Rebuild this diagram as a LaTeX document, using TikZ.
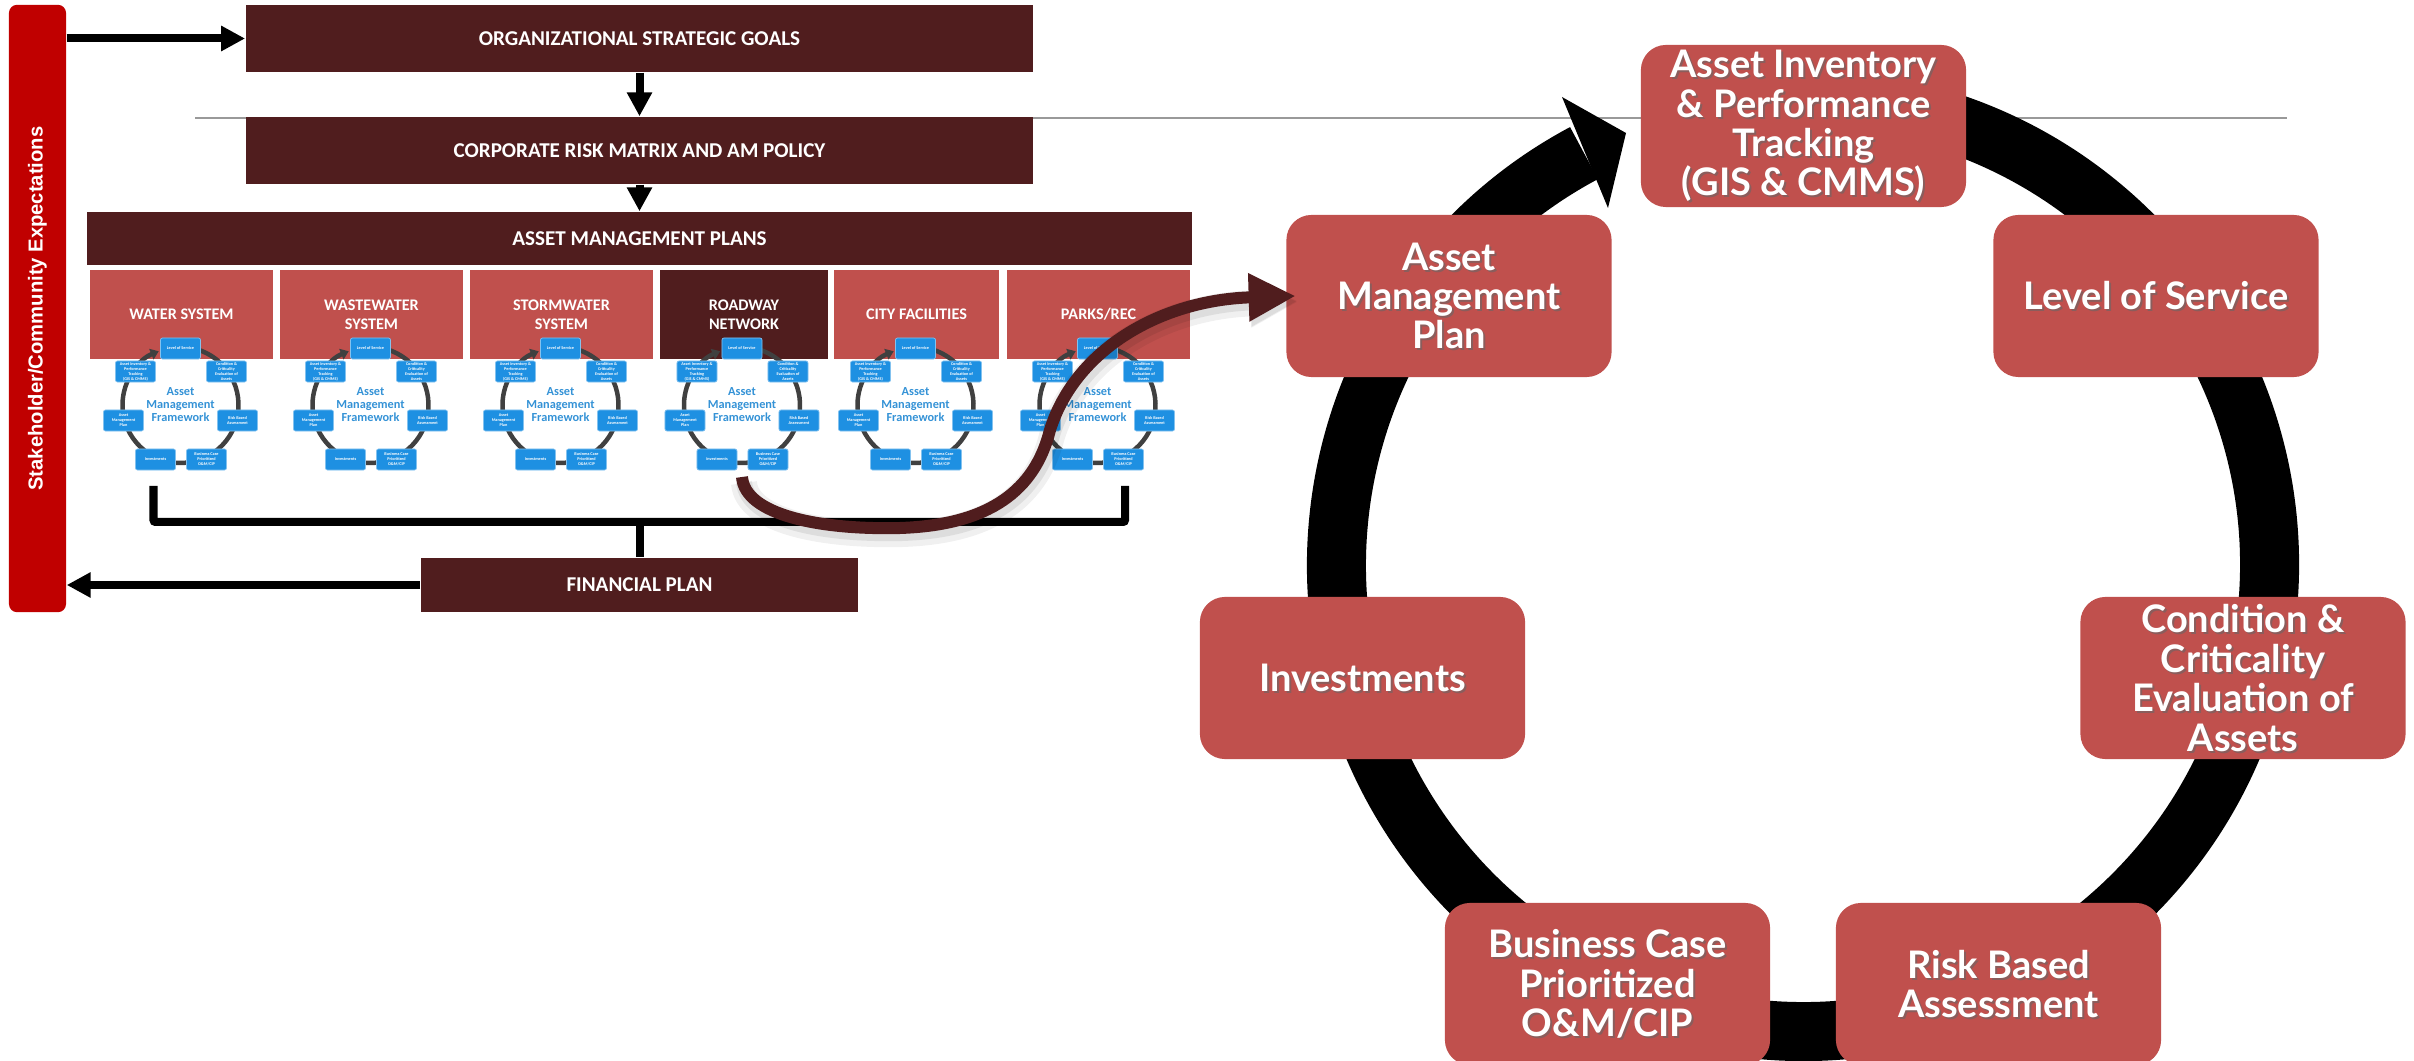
\documentclass[tikz,border=0pt]{standalone}
\usepackage{fontspec}
\setmainfont{Carlito}
\newfontfamily\cycfont{Lato}
\newfontfamily\barfont{Liberation Sans}
\usetikzlibrary{arrows.meta}

\definecolor{maroon}{RGB}{80,29,30}
\definecolor{boxred}{RGB}{192,80,77}
\definecolor{barred}{RGB}{192,0,0}
\definecolor{amfblue}{RGB}{30,144,226}
\definecolor{amftext}{RGB}{52,146,214}

% white label with a soft drop shadow, centred on a box
\newcommand{\shadowtext}[2]{%
  \node[cyctext,text=black!60,opacity=.6] (#1-shd) at ([shift={(2,2)}]#1) {#2};
  \node[cyctext] (#1-txt) at (#1) {#2};}

\tikzset{
  darkbox/.style={fill=maroon,text=white,inner sep=0pt,
    font=\fontsize{6}{7}\selectfont\bfseries},
  subbox/.style={fill=boxred,text=white,align=center,inner sep=0pt,
    minimum height=0.89cm,font=\fontsize{4.6}{5.4}\selectfont\bfseries},
  stakebar/.style={fill=barred,text=white,rotate=90,rounded corners=0.08cm,
    minimum width=6.07cm,minimum height=0.57cm,
    font=\barfont\bfseries\fontsize{5.75}{6}\selectfont},
  cycbox/.style={fill=boxred,rounded corners=0.25cm,
    minimum width=3.25cm,minimum height=1.62cm},
  cyctext/.style={text=white,align=center,
    font=\cycfont\bfseries\fontsize{10.8}{11.2}\selectfont},
  blkarrow/.style={line width=0.08cm,-{Triangle[length=0.24cm,width=0.24cm]}},
  bracket/.style={line width=0.08cm,rounded corners=0.02cm},
  mcurve/.style={draw=maroon,line width=0.12cm,
    -{Triangle[length=0.47cm,width=0.45cm]},
    preaction={draw=black,opacity=.06,line width=0.26cm,
      transform canvas={shift={(0.02cm,-0.06cm)}}},
    preaction={draw=black,opacity=.08,line width=0.16cm,
      transform canvas={shift={(0.02cm,-0.05cm)}}}},
  % small framework wheel inside each system box
  amfring/.style={draw=black!75,line width=0.045cm,
    -{Triangle[length=0.08cm,width=0.11cm]}},
  amfbox/.style={fill=amfblue,draw=amfblue!55!white,line width=0.2pt,
    rounded corners=0.02cm,minimum width=0.4cm,minimum height=0.21cm,
    inner sep=0pt,text=white,align=center,
    font=\fontsize{1.2}{1.4}\selectfont\bfseries},
  amftitle/.style={text=amftext,align=center,inner sep=0pt,
    font=\fontsize{3.5}{3.7}\selectfont\bfseries},
  amf/.pic={
    \draw[amfring] (-80:58) arc[start angle=-80,end angle=248,radius=58];
    \node[amftitle] (-title) at (0,0) {Asset\\Management\\Framework};
    \node[amfbox] (-top) at (0,-56.5) {Level of Service};
    \node[amfbox] (-ul) at (-45,-33.5) {Asset Inventory \&\\Performance\\Tracking\\(GIS \& CMMS)};
    \node[amfbox] (-ur) at (46,-33.5) {Condition \&\\Criticality\\Evaluation of\\Assets};
    \node[amfbox] (-l) at (-57,15.5) {Asset\\Management\\Plan};
    \node[amfbox] (-r) at (57,15.5) {Risk Based\\Assessment};
    \node[amfbox] (-bl) at (-25,54.5) {Investments};
    \node[amfbox] (-br) at (26,54.5) {Business Case\\Prioritized\\O\&M/CIP};
  }
}

\begin{document}
\begin{tikzpicture}[x=0.01cm,y=-0.01cm]
\clip (0,0) rectangle (2414,1061);

% thin rule behind everything
\draw[black!40,line width=0.02cm] (195,118) -- (2287,118);

% the big cycle
\coordinate (cyc) at (1803,565);
\draw[line width=0.59cm] (cyc) ++(-80:466.5) arc[start angle=-80,end angle=242,radius=466.5];
\fill (1562,97) -- (1626,133) -- (1608,208) -- cycle;

\node[cycbox] (inv) at (1803.5,126) {};
\node[cycbox] (amp) at (1449,296) {};
\node[cycbox] (los) at (2156,296) {};
\node[cycbox] (invest) at (1362.5,678) {};
\node[cycbox] (cond) at (2243,678) {};
\node[cycbox] (bcase) at (1607.5,984) {};
\node[cycbox] (risk) at (1998.5,984) {};
\shadowtext{inv}{Asset Inventory\\\& Performance\\Tracking\\(GIS \& CMMS)}
\shadowtext{amp}{Asset\\Management\\Plan}
\shadowtext{los}{Level of Service}
\shadowtext{invest}{Investments}
\shadowtext{cond}{Condition \&\\Criticality\\Evaluation of\\Assets}
\shadowtext{bcase}{Business Case\\Prioritized\\O\&M/CIP}
\shadowtext{risk}{Risk Based\\Assessment}

% left hand hierarchy
\node[stakebar] (stake) at (37.5,308.5) {Stakeholder/Community Expectations};
\node[darkbox,minimum width=7.87cm,minimum height=0.67cm] (osg) at (639.5,38.5) {ORGANIZATIONAL STRATEGIC GOALS};
\node[darkbox,minimum width=7.87cm,minimum height=0.67cm] (crm) at (639.5,150.5) {CORPORATE RISK MATRIX AND AM POLICY};
\node[darkbox,minimum width=11.05cm,minimum height=0.53cm] (amplans) at (639.5,238.5) {ASSET MANAGEMENT PLANS};
\node[darkbox,minimum width=4.37cm,minimum height=0.54cm] (fin) at (639.5,585) {FINANCIAL PLAN};

\node[subbox,minimum width=1.83cm] (water) at (181.5,314.5) {WATER SYSTEM};
\node[subbox,minimum width=1.83cm] (waste) at (371.5,314.5) {WASTEWATER\\SYSTEM};
\node[subbox,minimum width=1.83cm] (storm) at (561.5,314.5) {STORMWATER\\SYSTEM};
\node[subbox,minimum width=1.68cm,fill=maroon] (road) at (744,314.5) {ROADWAY\\NETWORK};
\node[subbox,minimum width=1.65cm] (city) at (916.5,314.5) {CITY FACILITIES};
\node[subbox,minimum width=1.83cm] (parks) at (1098.5,314.5) {PARKS/REC};

\pic (water-amf) at (180.5,405) {amf};
\pic (waste-amf) at (370.5,405) {amf};
\pic (storm-amf) at (560.5,405) {amf};
\pic (road-amf) at (742,405) {amf};
\pic (city-amf) at (915.5,405) {amf};
\pic (parks-amf) at (1097.5,405) {amf};

\draw[blkarrow] (stake.south |- osg.west) -- (osg.west);
\draw[blkarrow] (osg.south) -- (crm.north);
\draw[blkarrow] (crm.south) -- (amplans.north);

\coordinate (bl) at (153.5,486);
\coordinate (br) at (1125,486);
\coordinate (bjoin) at (639.5,522);
\draw[bracket] (bl) |- (bjoin) -| (br);
\draw[bracket] (bjoin) -- (fin.north);
\draw[blkarrow] (fin.west) -- (fin.west -| stake.south);

% roadway plan feeds the cycle
\coordinate (mstart) at (742,477);
\draw[mcurve] (mstart) .. controls (745,515) and (820,530) .. (900,528)
  .. controls (990,525) and (1035,490) .. (1050,430)
  .. controls (1075,350) and (1160,300) .. ([xshift=0.1cm]amp.west);
\end{tikzpicture}
\end{document}
